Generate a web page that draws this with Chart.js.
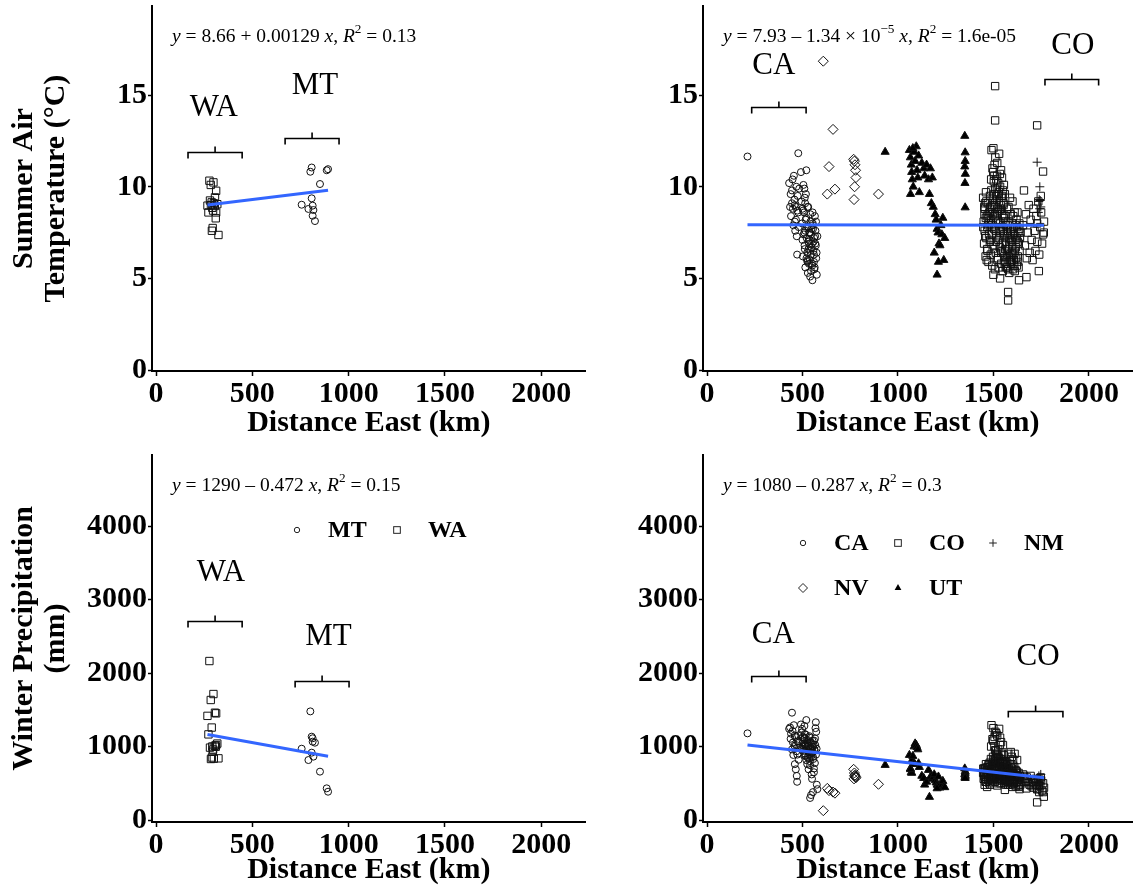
<!DOCTYPE html>
<html>
<head>
<meta charset="utf-8">
<script src="https://cdn.jsdelivr.net/npm/chart.js@4.4.1/dist/chart.umd.min.js"></script>
<style>
  html, body { margin: 0; background: #fff; }
  #wrap { position: relative; width: 1139px; height: 892px; overflow: hidden; }
  canvas { position: absolute; }
</style>
</head>
<body>
<div id="wrap">
  <canvas id="tempWest" width="600" height="445" style="left:0;top:0"></canvas>
  <canvas id="tempAll" width="539" height="445" style="left:600px;top:0"></canvas>
  <canvas id="precWest" width="600" height="447" style="left:0;top:445px"></canvas>
  <canvas id="precAll" width="539" height="447" style="left:600px;top:445px"></canvas>
</div>
<script>
// sites: distance east (km), summer air temperature (°C), winter precipitation (mm)
const waDist   = [277, 298, 284, 312, 306, 267, 289, 272, 312, 310, 294, 324, 285, 300, 292, 305, 280, 296, 318, 290];
const waTemp   = [10.33, 10.24, 10.1, 9.78, 9.42, 8.97, 9.15, 8.6, 8.6, 8.28, 7.75, 7.37, 9.0, 9.1, 8.85, 8.95, 9.25, 8.7, 9.05, 7.6];
const waPrecip = [2163, 1714, 1633, 1451, 1460, 1417, 1258, 1165, 1020, 997, 929, 839, 830, 835, 1000, 1010, 985, 960, 1040, 850];

const mtDist   = [756, 851, 893, 886, 801, 808, 808, 791, 817, 813, 813, 825];
const mtTemp   = [9.02, 10.15, 10.96, 10.9, 10.82, 11.05, 9.37, 8.79, 8.73, 8.97, 8.42, 8.13];
const mtPrecip = [970, 658, 385, 431, 1478, 1134, 916, 816, 862, 1112, 1066, 1052];

const caDist = [212, 478, 445, 430, 438, 440, 445, 450, 452, 455, 458, 460, 462, 465, 468, 470, 472, 475, 478, 480,
  483, 435, 448, 492, 495, 498, 500, 502, 505, 508, 510, 512, 515, 518, 520, 522, 525, 528, 530, 532,
  535, 538, 540, 542, 545, 548, 550, 552, 555, 558, 560, 562, 565, 568, 570, 572, 575, 578, 545, 540,
  555, 520, 510, 530, 525, 535, 500, 515, 560, 550,
  503, 507, 511, 514, 517, 521, 524, 527, 531, 534, 537, 541, 544, 547, 551, 554, 557, 561, 564, 567,
  571, 574, 512, 526, 539, 553, 566, 459, 466, 473];
const caTemp = [11.65, 11.83, 9.8, 10.2, 9.6, 8.4, 9.1, 8.8, 7.9, 10.6, 9.3, 8.1, 7.6, 8.9, 10.0, 7.3, 6.3, 9.5, 8.6, 7.8,
  9.9, 8.9, 10.4, 10.8, 9.2, 8.0, 7.1, 6.2, 10.1, 8.6, 7.5, 6.6, 5.6, 9.6, 8.3, 7.2, 6.4, 5.3, 8.9, 7.8,
  6.9, 6.0, 5.1, 8.1, 7.4, 6.7, 5.8, 4.9, 7.9, 7.0, 6.3, 5.5, 8.4, 7.6, 6.8, 6.1, 5.2, 7.3, 5.4, 6.5,
  7.7, 10.9, 9.9, 7.0, 6.0, 7.5, 8.8, 7.6, 5.9, 6.9,
  8.7, 7.4, 6.8, 9.1, 8.2, 6.1, 7.8, 8.9, 6.6, 5.8, 7.1, 8.5, 6.3, 7.7, 5.7, 8.0, 6.5, 7.2, 5.6, 6.9,
  8.1, 6.4, 9.4, 5.9, 7.5, 8.6, 7.3, 9.0, 8.2, 8.7];
const caPrecip = [1179, 1050, 1460, 1240, 1105, 1175, 960, 1055, 885, 1290, 1010, 760, 1130, 690, 935, 600, 520, 1070, 1150, 820,
  985, 1260, 1210, 1300, 1190, 1240, 1085, 1130, 960, 1010, 1105, 905, 870, 1160, 815, 990, 760, 1045, 930, 690,
  840, 1120, 745, 1060, 980, 620, 915, 1080, 860, 1025, 700, 955, 775, 1250, 1330, 1200, 480, 420, 340, 300,
  380, 1360, 1280, 1010, 950, 890, 970, 1030, 650, 560,
  1060, 940, 1120, 880, 1010, 960, 1090, 850, 1000, 920, 1140, 980, 860, 1050, 910, 1000, 830, 1080, 950, 1020,
  890, 970, 1170, 1060, 800, 930, 1110, 1150, 1020, 890];

const coDist = [1509, 1509, 1729, 1760, 1577, 1577, 1634, 1673, 1729, 1764,
  1490, 1500, 1510, 1520, 1495, 1530, 1540, 1505, 1515, 1525, 1535, 1545, 1550, 1555,
  1446, 1449, 1451, 1454, 1455, 1459, 1461, 1463, 1466, 1467, 1471, 1473, 1474, 1479, 1481, 1482, 1486, 1487, 1491, 1493,
  1494, 1498, 1501, 1503, 1504, 1508, 1511, 1513, 1514, 1519, 1521, 1522, 1526, 1527, 1529, 1533, 1536, 1537, 1541, 1543,
  1544, 1547, 1549, 1553, 1556, 1557, 1561, 1563, 1564, 1569, 1571, 1572, 1576, 1578, 1579, 1583, 1584, 1588, 1591, 1592,
  1596, 1597, 1601, 1603, 1606, 1607, 1611, 1612, 1616, 1617, 1621, 1623, 1624, 1628, 1631, 1632, 1636, 1637, 1639,
  1475, 1520, 1545, 1600, 1560, 1500, 1535, 1587,
  1655, 1660, 1665, 1670, 1675, 1680, 1685, 1690, 1695, 1700, 1705, 1710, 1715, 1720, 1725, 1730, 1735, 1740, 1745, 1750,
  1755, 1760, 1765, 1748, 1738,
  1452, 1457, 1463, 1469, 1476, 1483, 1489, 1496, 1502, 1507, 1513, 1518, 1524, 1531, 1537, 1542, 1548, 1554, 1559, 1566,
  1573, 1579, 1586, 1593, 1599, 1604, 1609, 1614, 1619, 1626, 1633, 1641, 1447, 1456, 1465, 1477, 1485, 1494, 1503, 1512,
  1523, 1532, 1541, 1551, 1558, 1567, 1574, 1581, 1589, 1597, 1606, 1613, 1622, 1629, 1636, 1453, 1468, 1484, 1497, 1509,
  1517, 1528, 1539, 1549, 1562, 1570, 1583, 1594, 1603, 1615, 1627, 1488, 1499, 1514, 1526, 1534, 1546, 1553, 1506, 1519,
  1529, 1538, 1460, 1471, 1481, 1492, 1565, 1577, 1590, 1610];
const coTemp = [15.49, 13.62, 13.35, 10.83, 4.26, 3.8, 4.9, 5.07, 8.0, 7.5,
  12.0, 12.1, 11.6, 11.3, 11.0, 11.8, 10.9, 10.6, 10.4, 10.2, 10.0, 10.5, 9.8, 10.1,
  9.4, 8.1, 6.9, 7.6, 8.8, 6.2, 9.7, 7.2, 8.4, 6.6, 9.1, 7.9, 5.9, 8.6, 7.0, 9.5, 6.3, 8.0, 7.4, 9.0,
  5.7, 8.5, 6.8, 9.6, 7.7, 5.5, 8.9, 6.4, 7.3, 9.3, 6.0, 8.2, 7.1, 5.6, 9.2, 6.7, 8.0, 7.5, 5.8, 8.7,
  6.5, 7.8, 5.4, 9.0, 6.2, 7.4, 8.4, 5.9, 7.0, 6.1, 8.8, 5.6, 7.6, 6.6, 8.1, 5.3, 7.2, 6.3, 8.5, 5.8,
  7.0, 6.4, 8.0, 5.5, 7.4, 6.0, 8.6, 5.4, 7.1, 6.7, 8.2, 5.7, 7.8, 6.2, 7.5, 5.6, 8.0, 6.5, 7.2,
  8.3, 8.6, 9.5, 9.2, 9.6, 5.2, 5.0, 9.4,
  7.9, 9.8, 6.8, 8.5, 6.1, 7.5, 9.0, 6.4, 8.2, 7.1, 6.0, 8.8, 7.6, 6.5, 8.4, 7.0, 9.2, 6.3, 7.8, 8.6,
  6.9, 7.4, 8.1, 9.5, 5.4,
  8.9, 7.3, 9.2, 6.5, 8.0, 7.1, 9.8, 6.6, 10.3, 8.4, 7.0, 9.9, 6.1, 8.7, 7.6, 9.4, 6.9, 8.3, 5.8, 7.9,
  6.3, 8.9, 5.9, 7.7, 6.8, 8.4, 5.7, 7.3, 6.1, 8.6, 6.9, 7.5, 7.8, 9.1, 6.0, 7.4, 8.6, 7.9, 9.0, 7.6,
  8.8, 7.2, 6.4, 8.1, 7.3, 6.8, 7.9, 6.2, 7.4, 6.0, 7.7, 6.5, 7.2, 5.9, 7.7, 8.5, 7.8, 8.9, 9.3, 9.9,
  8.5, 9.6, 8.8, 7.6, 6.6, 7.5, 6.9, 7.1, 6.3, 7.9, 7.0, 10.4, 10.8, 9.5, 8.1, 10.7, 8.5, 9.1, 11.2, 10.6,
  9.7, 9.0, 8.3, 8.5, 8.8, 7.8, 5.6, 5.5, 6.0, 6.4];
const coPrecip = [820, 760, 420, 380, 520, 480, 450, 430, 240, 317,
  1290, 1250, 1200, 1150, 1100, 1240, 1060, 1000, 1180, 960, 1120, 900, 1020, 880,
  640, 560, 700, 480, 610, 520, 760, 590, 680, 450, 720, 540, 620, 500, 780, 660, 570, 830, 610, 540,
  700, 860, 640, 580, 760, 520, 690, 800, 610, 730, 560, 850, 640, 500, 700, 780, 590, 830, 650, 540,
  720, 610, 790, 560, 680, 500, 760, 620, 700, 540, 650, 780, 590, 900, 700, 540, 620, 480, 925, 700,
  860, 560, 640, 820, 600, 500, 900, 560, 680, 460, 610, 520, 816, 590, 470, 640, 550, 420, 600,
  750, 470, 800, 450, 410, 590, 540, 520,
  620, 600, 560, 520, 580, 540, 500, 480, 600, 460, 520, 440, 500, 560, 480, 420, 520, 380, 460, 540,
  400, 500, 440, 580, 470,
  590, 700, 520, 640, 760, 480, 680, 560, 820, 610, 700, 540, 780, 620, 500, 720, 660, 580, 800, 530,
  690, 610, 540, 760, 640, 500, 720, 590, 660, 520, 570, 480, 700, 560, 620, 680, 540, 760, 600, 840,
  640, 720, 560, 690, 610, 740, 520, 660, 580, 700, 620, 540, 660, 580, 500, 650, 720, 600, 780, 950,
  880, 700, 620, 760, 540, 600, 680, 520, 740, 560, 600, 1000, 1080, 940, 860, 1020, 780, 820, 1130, 900,
  840, 760, 520, 640, 580, 700, 480, 560, 620, 500];

const nmDist   = [1729, 1743, 1740, 1738, 1745, 1742, 1735, 1748];
const nmTemp   = [11.34, 10.0, 9.3, 9.2, 9.25, 8.8, 8.6, 8.9];
const nmPrecip = [560, 540, 520, 600, 580, 500, 480, 620];

const nvDist   = [609, 630, 639, 660, 670, 768, 772, 775, 778, 780, 773, 770, 898];
const nvTemp   = [16.85, 9.6, 11.1, 13.13, 9.87, 11.5, 11.4, 11.2, 10.9, 10.5, 10.0, 9.3, 9.6];
const nvPrecip = [127, 431, 400, 380, 365, 690, 640, 610, 590, 575, 600, 560, 486];

const utDist = [933, 1060, 1065, 1070, 1072, 1075, 1080, 1085, 1090, 1096, 1100, 1104, 1108, 1112, 1066, 1078,
  1125, 1135, 1140, 1150, 1160, 1170, 1180,
  1165, 1175, 1185, 1195, 1200, 1205, 1210, 1215, 1220, 1225, 1230, 1235, 1240, 1205, 1245, 1190, 1212,
  1350, 1352, 1352, 1350, 1353, 1351, 1352];
const utTemp = [11.9, 12.0, 11.6, 11.2, 10.8, 10.4, 10.0, 11.9, 11.4, 12.2, 10.9, 10.5, 11.7, 9.7, 9.6, 12.1,
  11.3, 11.0, 10.6, 11.2, 10.4, 11.0, 10.5,
  9.6, 9.1, 8.9, 8.5, 8.2, 7.7, 7.5, 6.9, 6.8, 7.9, 7.4, 8.3, 6.0, 5.2, 7.2, 6.4, 5.9,
  12.77, 11.87, 11.4, 11.1, 10.7, 10.2, 8.87];
const utPrecip = [748, 884, 700, 650, 640, 820, 760, 1000, 1040, 1020, 990, 960, 770, 720, 690, 870,
  600, 570, 480, 520, 680, 585, 560,
  313, 600, 580, 540, 510, 480, 470, 450, 440, 500, 470, 530, 455, 430, 445, 620, 590,
  700, 660, 640, 620, 600, 580, 570];

// linear fits: temp west, temp all, precip west, precip all
const fitIntercept = [8.66, 7.93, 1290, 1080];
const fitSlope = [0.00129, -1.34e-5, -0.472, -0.287];
const fitR2 = ['0.13', '1.6e-05', '0.15', '0.3'];

const distTicks = [0, 500, 1000, 1500, 2000];
const tempTicks = [0, 5, 10, 15];
const precipTicks = [0, 1000, 2000, 3000, 4000];

const FONT = '"Liberation Serif", "Times New Roman", serif';

const markers = {
  CA: { pointStyle: 'circle', pointRadius: 3.5 },
  MT: { pointStyle: 'circle', pointRadius: 3.5 },
  CO: { pointStyle: 'rect', pointRadius: 5.2 },
  WA: { pointStyle: 'rect', pointRadius: 5.2 },
  NM: { pointStyle: 'cross', pointRadius: 4.5 },
  NV: { pointStyle: 'rectRot', pointRadius: 5 },
  UT: { pointStyle: 'triangle', pointRadius: 4.7, fill: true }
};
const legendRadius = { circle: 2.7, rect: 4.7, cross: 3.8, rectRot: 4.5, triangle: 3.9 };

const pts = (xs, ys) => xs.map((x, i) => ({ x, y: ys[i] }));

function group(label, xs, ys, order) {
  const m = markers[label];
  return {
    label, order,
    data: pts(xs, ys),
    pointStyle: m.pointStyle,
    pointRadius: m.pointRadius,
    pointHoverRadius: m.pointRadius,
    borderWidth: 1,
    borderColor: '#111',
    backgroundColor: m.fill ? '#000' : 'rgba(0,0,0,0)'
  };
}

function fitLine(i, groups) {
  const xs = groups.flatMap(g => g.data.map(p => p.x));
  const lo = Math.min(...xs), hi = Math.max(...xs);
  return {
    type: 'line', order: 0,
    data: [lo, hi].map(x => ({ x, y: fitIntercept[i] + fitSlope[i] * x })),
    borderColor: '#3366FF', borderWidth: 3, pointRadius: 0, tension: 0, fill: false
  };
}

function eqParts(i) {
  const b = fitSlope[i], ab = Math.abs(b);
  const parts = [{ t: 'y', it: true }, { t: ' = ' + fitIntercept[i] + (b < 0 ? ' \u2013 ' : ' + ') }];
  if (ab < 1e-3) {
    const e = Math.floor(Math.log10(ab));
    parts.push({ t: (ab / Math.pow(10, e)).toFixed(2) + ' \u00d7 10' });
    parts.push({ t: '\u2212' + (-e), sup: true });
  } else {
    parts.push({ t: String(ab) });
  }
  parts.push({ t: ' ' }, { t: 'x', it: true }, { t: ', ' }, { t: 'R', it: true },
    { t: '2', sup: true }, { t: ' = ' + fitR2[i] });
  return parts;
}

function drawRich(ctx, x, y, parts, size) {
  ctx.textAlign = 'left';
  ctx.textBaseline = 'middle';
  parts.forEach(p => {
    const fs = p.sup ? size * 0.68 : size;
    ctx.font = (p.it ? 'italic ' : '') + fs + 'px ' + FONT;
    ctx.fillText(p.t, x, p.sup ? y - size * 0.38 : y);
    x += ctx.measureText(p.t).width;
  });
}

function drawMarker(ctx, style, x, y, r) {
  ctx.beginPath();
  if (style === 'circle') {
    ctx.arc(x, y, r, 0, Math.PI * 2);
    ctx.stroke();
  } else if (style === 'rect') {
    const s = r * Math.SQRT1_2;
    ctx.strokeRect(x - s, y - s, 2 * s, 2 * s);
  } else if (style === 'rectRot') {
    ctx.moveTo(x - r, y); ctx.lineTo(x, y - r); ctx.lineTo(x + r, y); ctx.lineTo(x, y + r);
    ctx.closePath(); ctx.stroke();
  } else if (style === 'cross') {
    ctx.moveTo(x - r, y); ctx.lineTo(x + r, y); ctx.moveTo(x, y - r); ctx.lineTo(x, y + r);
    ctx.stroke();
  } else if (style === 'triangle') {
    ctx.moveTo(x, y - r);
    ctx.lineTo(x + r * 0.866, y + r * 0.5);
    ctx.lineTo(x - r * 0.866, y + r * 0.5);
    ctx.closePath(); ctx.fill();
  }
}

// equation, state brackets and legend on top of the points
const panelText = {
  id: 'panelText',
  afterDatasetsDraw(chart, args, o) {
    const { ctx, chartArea: a, scales: { x, y } } = chart;
    ctx.save();
    ctx.fillStyle = '#000';
    ctx.strokeStyle = '#000';
    drawRich(ctx, a.left + 20, a.top + 31, eqParts(o.fit), 19.5);

    ctx.lineWidth = 1.6;
    (o.tags || []).forEach(tag => {
      ctx.font = '31px ' + FONT;
      ctx.textAlign = 'center';
      ctx.textBaseline = 'middle';
      ctx.fillText(tag.text, x.getPixelForValue(tag.x), y.getPixelForValue(tag.y));
      const l = x.getPixelForValue(tag.from), r = x.getPixelForValue(tag.to);
      const by = Math.round(y.getPixelForValue(tag.at)) + 0.5, m = (l + r) / 2;
      ctx.beginPath();
      ctx.moveTo(l, by + 6); ctx.lineTo(l, by); ctx.lineTo(r, by); ctx.lineTo(r, by + 6);
      ctx.moveTo(m, by); ctx.lineTo(m, by - 6);
      ctx.stroke();
    });

    if (o.legend) {
      const L = o.legend;
      const items = chart.data.datasets.filter(d => d.label).sort((p, q) => p.label.localeCompare(q.label));
      ctx.lineWidth = 1;
      items.forEach((d, k) => {
        const cx = a.left + L.left + (k % L.cols) * L.step;
        const cy = a.top + L.top + Math.floor(k / L.cols) * L.row;
        ctx.strokeStyle = '#222';
        ctx.fillStyle = '#000';
        drawMarker(ctx, d.pointStyle, cx, cy, legendRadius[d.pointStyle]);
        ctx.font = 'bold 24px ' + FONT;
        ctx.textAlign = 'left';
        ctx.textBaseline = 'middle';
        ctx.fillText(d.label, cx + 31, cy + 1);
      });
    }
    ctx.restore();
  }
};

const intLabel = v => String(v);
// keep the plot area where the layout puts it, labels may overhang
const noPad = s => { s.paddingTop = 0; s.paddingBottom = 0; s.paddingLeft = 0; s.paddingRight = 0; };

function xScale(height) {
  return {
    type: 'linear', min: -21, max: 2230,
    afterBuildTicks: s => { s.ticks = distTicks.map(v => ({ value: v })); },
    afterFit: s => { s.height = height; noPad(s); },
    ticks: { color: '#000', font: { family: FONT, size: 30, weight: 'bold' }, padding: 0, maxRotation: 0, autoSkip: false, callback: intLabel },
    grid: { drawOnChartArea: false, tickLength: 5, tickColor: '#000', tickWidth: 1.5 },
    border: { color: '#000', width: 2 },
    title: { display: true, text: 'Distance East (km)', color: '#000', font: { family: FONT, size: 30, weight: 'bold', lineHeight: 1.2 }, padding: { top: 0, bottom: 4 } }
  };
}

function yScale(min, max, ticks, width, title) {
  return {
    type: 'linear', min, max,
    afterBuildTicks: s => { s.ticks = ticks.map(v => ({ value: v })); },
    afterFit: s => { s.width = width; noPad(s); },
    ticks: { color: '#000', font: { family: FONT, size: 30, weight: 'bold' }, padding: 1, autoSkip: false, callback: intLabel },
    grid: { drawOnChartArea: false, tickLength: 4, tickColor: '#000', tickWidth: 1.5 },
    border: { color: '#000', width: 2 },
    title: { display: !!title, text: title || '', color: '#000', font: { family: FONT, size: 30, weight: 'bold', lineHeight: 32 / 30 }, padding: { top: 8, bottom: 0 } }
  };
}

function panel(id, cfg) {
  const datasets = [fitLine(cfg.fit, cfg.groups), ...cfg.groups];
  new Chart(document.getElementById(id), {
    type: 'scatter',
    data: { datasets },
    options: {
      responsive: false,
      animation: false,
      devicePixelRatio: 1,
      layout: { padding: cfg.padding },
      plugins: {
        legend: { display: false },
        tooltip: { enabled: false },
        panelText: { fit: cfg.fit, tags: cfg.tags, legend: cfg.legend }
      },
      scales: { x: xScale(cfg.xHeight), y: cfg.y }
    },
    plugins: [panelText]
  });
}

const tempTitle = ['Summer Air', 'Temperature (\u00b0C)'];
const precipTitle = ['Winter Precipitation', '(mm)'];

panel('tempWest', {
  fit: 0, xHeight: 74,
  padding: { top: 5, right: 14.4, bottom: 0, left: 0 },
  y: yScale(-0.05, 19.85, tempTicks, 152, tempTitle),
  groups: [group('WA', waDist, waTemp, 2), group('MT', mtDist, mtTemp, 1)],
  tags: [
    { text: 'WA', x: 300, y: 14.3, from: 166, to: 447, at: 11.92 },
    { text: 'MT', x: 825, y: 15.5, from: 670, to: 950, at: 12.66 }
  ]
});

panel('tempAll', {
  fit: 1, xHeight: 74,
  padding: { top: 5, right: 2.4, bottom: 0, left: 0 },
  y: yScale(-0.05, 19.85, tempTicks, 103, null),
  groups: [
    group('CA', caDist, caTemp, 5), group('CO', coDist, coTemp, 4), group('NM', nmDist, nmTemp, 3),
    group('NV', nvDist, nvTemp, 2), group('UT', utDist, utTemp, 1)
  ],
  tags: [
    { text: 'CA', x: 350, y: 16.6, from: 234, to: 519, at: 14.35 },
    { text: 'CO', x: 1916, y: 17.7, from: 1770, to: 2051, at: 15.87 }
  ]
});

panel('precWest', {
  fit: 2, xHeight: 70,
  padding: { top: 10, right: 14.4, bottom: 0, left: 0 },
  y: yScale(-27, 4966, precipTicks, 152, precipTitle),
  groups: [group('WA', waDist, waPrecip, 2), group('MT', mtDist, mtPrecip, 1)],
  tags: [
    { text: 'WA', x: 337, y: 3360, from: 166, to: 447, at: 2707 },
    { text: 'MT', x: 895, y: 2490, from: 722, to: 1002, at: 1890 }
  ],
  legend: { left: 145, top: 75, step: 100, row: 45, cols: 2 }
});

panel('precAll', {
  fit: 3, xHeight: 70,
  padding: { top: 10, right: 2.4, bottom: 0, left: 0 },
  y: yScale(-27, 4966, precipTicks, 103, null),
  groups: [
    group('CA', caDist, caPrecip, 5), group('CO', coDist, coPrecip, 4), group('NM', nmDist, nmPrecip, 3),
    group('NV', nvDist, nvPrecip, 2), group('UT', utDist, utPrecip, 1)
  ],
  tags: [
    { text: 'CA', x: 347, y: 2517, from: 234, to: 519, at: 1960 },
    { text: 'CO', x: 1734, y: 2218, from: 1578, to: 1864, at: 1483 }
  ],
  legend: { left: 100, top: 88, step: 95, row: 45, cols: 3 }
});
</script>
</body>
</html>
